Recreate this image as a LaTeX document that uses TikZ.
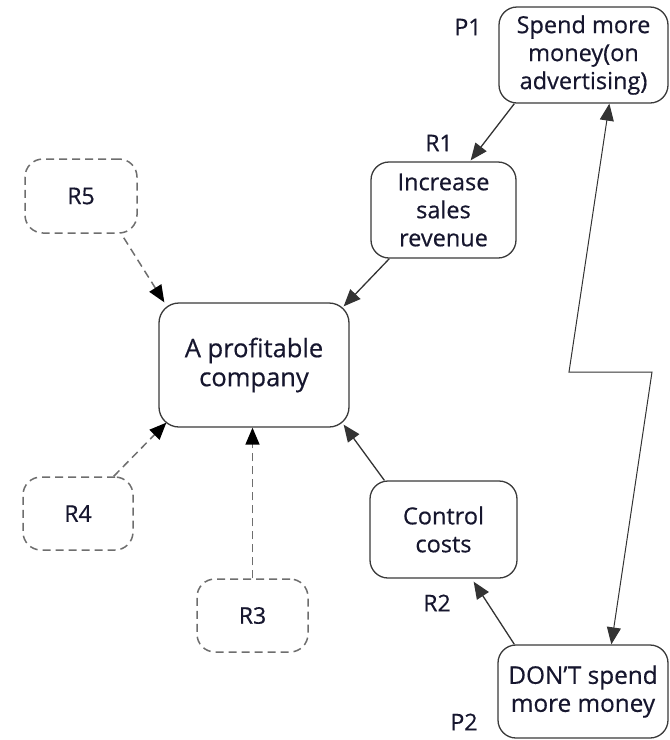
\documentclass[tikz,border=0pt]{standalone}
\usepackage{fontspec}
\setmainfont{Open Sans}
\newfontfamily\diagfont[FakeBold=0.5]{Open Sans}
\usetikzlibrary{arrows.meta,calc}
\definecolor{ink}{HTML}{16162E}
\definecolor{boxline}{HTML}{3A3A3A}
\definecolor{dashline}{HTML}{6E6E6E}
\definecolor{linkline}{HTML}{333333}
\begin{document}
\begin{tikzpicture}[x=1pt,y=-1pt,
  box/.style={draw=boxline, line width=1.3pt, rounded corners=18pt, fill=white,
    align=center, inner sep=0pt, text=ink, font=\diagfont\fontsize{23.5}{28}\selectfont},
  reason/.style={draw=dashline, line width=1.5pt, dash pattern=on 8pt off 5pt,
    rounded corners=18pt, fill=white, inner sep=0pt, text=ink,
    font=\diagfont\fontsize{23}{26}\selectfont},
  tag/.style={inner sep=0pt, text=ink, font=\diagfont\fontsize{23}{26}\selectfont},
  link/.style={draw=linkline, line width=1.3pt, -{Triangle[length=17pt,width=14pt]}},
  weaklink/.style={draw=dashline, line width=1.5pt, dash pattern=on 8pt off 5pt,
    -{Triangle[length=17pt,width=14pt,color=black]}},
  conflict/.style={draw=linkline, line width=1pt,
    {Triangle[length=17pt,width=14pt]}-{Triangle[length=17pt,width=14pt]}}]
\useasboundingbox (0,0) rectangle (670,740);

% goal, requirements and prerequisites
\node[box, minimum width=190pt, minimum height=124pt, rounded corners=20pt,
  font=\diagfont\fontsize{25.5}{29}\selectfont] (goal) at (254,365)
  {A profitable\\company};
\node[box, minimum width=145pt, minimum height=96pt] (r1) at (443.5,210)
  {Increase\\sales\\revenue};
\node[box, minimum width=147pt, minimum height=97pt] (r2) at (443.5,529.5)
  {Control\\costs};
\node[box, minimum width=169pt, minimum height=96pt] (p1) at (583.5,55)
  {Spend more\\money(on\\advertising)};
\node[box, minimum width=170pt, minimum height=93pt,
  font=\diagfont\fontsize{24.3}{28}\selectfont] (p2) at (583,691.5)
  {DON’T spend\\more money};

% further possible requirements
\node[reason, minimum width=112pt, minimum height=74pt] (r5) at (81,196) {R5};
\node[reason, minimum width=110pt, minimum height=73pt] (r4) at (78,513.5) {R4};
\node[reason, minimum width=111pt, minimum height=73pt] (r3) at (252.5,615.5) {R3};

% labels
\node[tag] (lp1) at (468,27) {P1};
\node[tag] (lr1) at (439,143) {R1};
\node[tag] (lr2) at (437,603) {R2};
\node[tag] (lp2) at (464,722) {P2};

% necessity links
\draw[link] ($(p1.south west)+(16,0)$) -- ($(r1.north east)+(-46,-1)$);
\draw[link] ($(r1.south west)+(19,0)$) -- ($(goal.north east)+(-6,4)$);
\draw[link] ($(r2.north west)+(15,0)$) -- ($(goal.south east)+(-6,-3)$);
\draw[link] ($(p2.north west)+(17,0)$) -- ($(r2.south east)+(-44,3)$);

\draw[weaklink] ($(r5.south east)+(-14,4)$) -- ($(goal.north west)+(6,0)$);
\draw[weaklink] ($(r4.north east)+(-20,0)$) -- ($(goal.south west)+(8,-5)$);
\draw[weaklink] (r3.north) -- (r3.north |- goal.south);

% conflict between the prerequisites
\coordinate (zl) at (569,372);
\coordinate (zr) at (652,372);
\draw[conflict] ($(p1.south west)+(111,0)$) -- (zl) -- (zr) -- ($(p2.north west)+(114,0)$);
\end{tikzpicture}
\end{document}
